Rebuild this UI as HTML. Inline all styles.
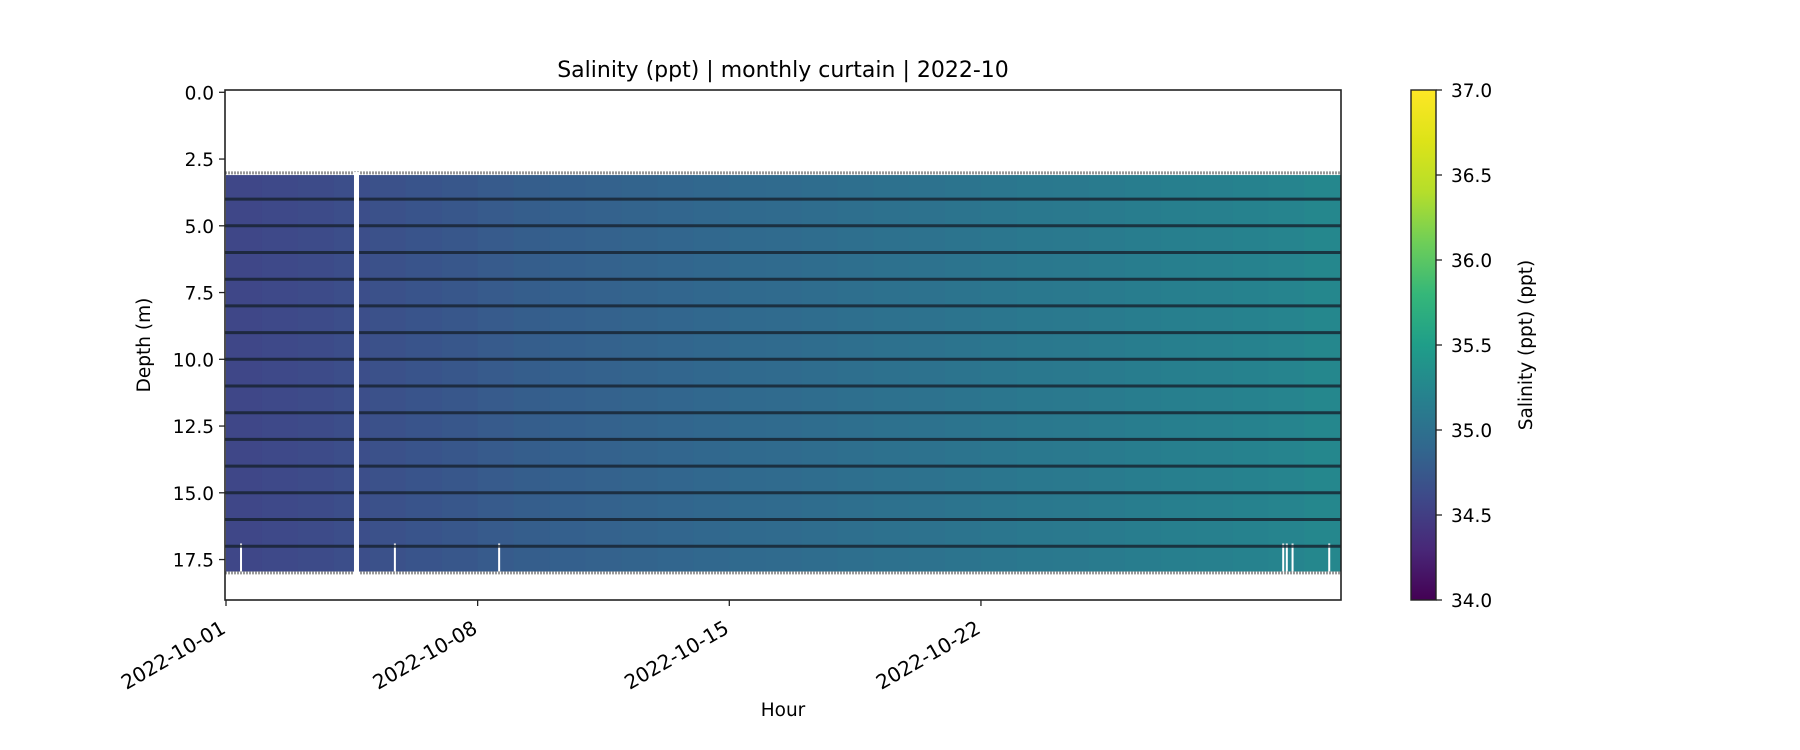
<!DOCTYPE html>
<html><head><meta charset="utf-8"><style>
body{margin:0;background:#fff}
svg{display:block;font-family:"DejaVu Sans","Liberation Sans",sans-serif}
</style></head><body>
<svg id="chart" width="1800" height="750" viewBox="0 0 1800 750" xmlns="http://www.w3.org/2000/svg">
<defs>
<linearGradient id="vir" x1="0" y1="1" x2="0" y2="0">
<stop offset="0" stop-color="#440154"/><stop offset="0.1" stop-color="#482878"/><stop offset="0.2" stop-color="#3e4989"/><stop offset="0.3" stop-color="#31688e"/><stop offset="0.4" stop-color="#26828e"/><stop offset="0.5" stop-color="#1f9e89"/><stop offset="0.6" stop-color="#35b779"/><stop offset="0.7" stop-color="#6ece58"/><stop offset="0.8" stop-color="#b5de2b"/><stop offset="0.9" stop-color="#dde318"/><stop offset="1" stop-color="#fde725"/>
</linearGradient>
<clipPath id="clip"><rect x="225" y="90" width="1116" height="510"/></clipPath>
</defs>
<text x="783" y="77" text-anchor="middle" font-size="22">Salinity (ppt) | monthly curtain | 2022-10</text>
<g id="plot" clip-path="url(#clip)"></g>
<rect x="225" y="90" width="1116" height="510" fill="none" stroke="#222" stroke-width="1.6"/>
<g id="axes"></g>
<text transform="translate(150,345) rotate(-90)" text-anchor="middle" font-size="18.5">Depth (m)</text>
<text x="783" y="716" text-anchor="middle" font-size="18.5">Hour</text>
<rect x="1411" y="90" width="25" height="510" fill="url(#vir)" stroke="#222" stroke-width="1.4"/>
<g id="cbaxis"></g>
<text transform="translate(1532,345) rotate(-90)" text-anchor="middle" font-size="18.5">Salinity (ppt) (ppt)</text>
</svg>
<script>
const dailySalinity=[34.58,34.60,34.62,34.65,34.68,34.71,34.74,34.77,34.80,34.82,34.84,34.86,34.88,34.90,34.92,34.94,34.96,34.98,35.00,35.02,35.04,35.06,35.08,35.10,35.12,35.14,35.16,35.18,35.20,35.22,35.25];
const sensorDepths=[4,5,6,7,8,9,10,11,12,13,14,15,16,17];
const curtainTop=[3.1];
const curtainBottom=[17.95];
const gapDays=[[3.56,3.70]];
const bottomGapDays=[0.39,4.67,7.57,29.38,29.48,29.64,30.66];
const yTicks=[0,2.5,5,7.5,10,12.5,15,17.5];
const xTickDays=[0,7,14,21];
const xTickLabels=["2022-10-01","2022-10-08","2022-10-15","2022-10-22"];
const cbTicks=[34,34.5,35,35.5,36,36.5,37];
const NS="http://www.w3.org/2000/svg";
const X0=226,PXD=35.95;
const xs=d=>X0+d*PXD;
const ys=m=>92.3+m*26.7;
const cbY=v=>600-(v-34)/3*510;
const vir=[[68,1,84],[72,40,120],[62,73,137],[49,104,142],[38,130,142],[31,158,137],[53,183,121],[110,206,88],[181,222,43],[221,227,24],[253,231,37]];
function col(v){let t=Math.max(0,Math.min(1,(v-34)/3))*10;let i=Math.min(9,Math.floor(t)),f=t-i;const a=vir[i],b=vir[i+1];return `rgb(${a.map((c,k)=>Math.round(c+(b[k]-c)*f)).join(',')})`;}
function mk(tag,attrs,parent){const e=document.createElementNS(NS,tag);for(const k in attrs)e.setAttribute(k,attrs[k]);parent.appendChild(e);return e;}
const plot=document.getElementById('plot');
dailySalinity.forEach((v,i)=>{
 const r=mk('rect',{x:xs(i),y:ys(curtainTop[0]),width:PXD+0.6,height:ys(curtainBottom[0])-ys(curtainTop[0]),fill:col(v)},plot);
 
 
});
bottomGapDays.forEach(d=>{
 const r=mk('rect',{x:xs(d),y:ys(16.9),width:2,height:ys(curtainBottom[0])-ys(16.9),fill:'#fff'},plot);
 
 
});
sensorDepths.forEach(d=>{
 const l=mk('line',{x1:225,x2:1341,y1:ys(d),y2:ys(d),stroke:'#16222e','stroke-width':3,'stroke-opacity':0.8},plot);
 
 
});
[curtainTop[0]-0.08,curtainBottom[0]+0.05].forEach(d=>{
 const l=mk('line',{x1:225,x2:1341,y1:ys(d),y2:ys(d),stroke:'#999','stroke-width':3,'stroke-dasharray':'2 1'},plot);
 
 
});
gapDays.forEach(g=>{
 const r=mk('rect',{x:xs(g[0]),y:ys(curtainTop[0])-3,width:xs(g[1])-xs(g[0]),height:ys(curtainBottom[0])-ys(curtainTop[0])+6,fill:'#fff'},plot);
 
 
});
const axes=document.getElementById('axes');
yTicks.forEach(t=>{
 const y=ys(t);
 const l=mk('line',{x1:219,x2:225,y1:y,y2:y,stroke:'#222','stroke-width':1.3},axes);
 
 
 const tx=mk('text',{x:214,y:y+7,'text-anchor':'end','font-size':18.5},axes);
 tx.textContent=t.toFixed(1);
 
 
});
xTickDays.forEach((d,i)=>{
 const x=xs(d);
 const l=mk('line',{x1:x,x2:x,y1:600,y2:606,stroke:'#222','stroke-width':1.3},axes);
 
 
 const tx=mk('text',{transform:`translate(${x+1},${632}) rotate(-30)`,'text-anchor':'end','font-size':20},axes);
 tx.textContent=xTickLabels[i];
 
 
});
const cb=document.getElementById('cbaxis');
cbTicks.forEach(t=>{
 const y=cbY(t);
 const l=mk('line',{x1:1436,x2:1442,y1:y,y2:y,stroke:'#222','stroke-width':1.3},cb);
 
 
 const tx=mk('text',{x:1451,y:y+7,'font-size':18.5},cb);
 tx.textContent=t.toFixed(1);
 
 
});
</script>
</body></html>
